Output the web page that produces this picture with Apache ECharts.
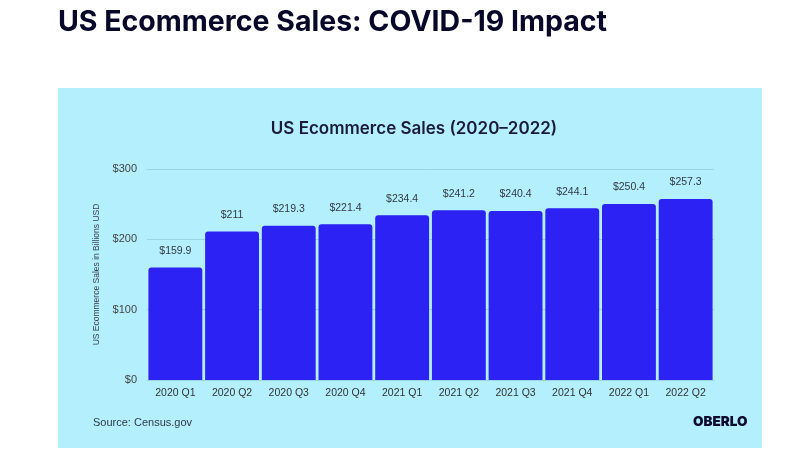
<!DOCTYPE html>
<html><head><meta charset="utf-8">
<script src="https://cdn.jsdelivr.net/npm/echarts@6/dist/echarts.min.js"></script>
<style>html,body{margin:0;padding:0;background:#fff}#c{width:811px;height:475px}</style>
</head><body><div id="c"></div>
<script>
const categories = ['2020 Q1','2020 Q2','2020 Q3','2020 Q4','2021 Q1','2021 Q2','2021 Q3','2021 Q4','2022 Q1','2022 Q2'];
const sales = [159.9, 211, 219.3, 221.4, 234.4, 241.2, 240.4, 244.1, 250.4, 257.3];
const yTicks = [0, 100, 200, 300];

const chart = echarts.init(document.getElementById('c'));
chart.setOption({
  backgroundColor: '#ffffff',
  animation: false,
  graphic: [
    {type:'rect', left:58, top:88, z:-10, shape:{width:704, height:360}, style:{fill:'#b3effc'}},
    {type:'text', left:58, top:8, style:{text:'US Ecommerce Sales: COVID-19 Impact', font:'bold 28.5px "Inter", "Liberation Sans", sans-serif', fill:'#07072a'}},
    {type:'text', left:93, top:417, style:{text:'Source: Census.gov', font:'11px "Liberation Sans", sans-serif', fill:'#333a44'}},
    {type:'text', left:693, top:415, style:{text:'OBERLO', font:'900 13.5px "Inter", "Liberation Sans", sans-serif', fill:'#0b0b30'}}
  ],
  title: {
    text: 'US Ecommerce Sales (2020–2022)',
    left: 409, top: 115, textAlign: 'center',
    textStyle: {fontSize: 17, fontWeight: 600, color: '#1b1b38', fontFamily: 'Inter, "Liberation Sans", sans-serif'}
  },
  grid: {left: 147, right: 97, top: 169, bottom: 95},
  xAxis: {
    type: 'category', data: categories,
    axisLine: {show: false}, axisTick: {show: false},
    axisLabel: {color: '#333', fontSize: 10.5, margin: 8, fontFamily: '"Liberation Sans", sans-serif'}
  },
  yAxis: {
    type: 'value', min: 0, max: 300, interval: 100,
    name: 'US Ecommerce Sales in Billions USD', nameLocation: 'middle', nameGap: 44,
    nameTextStyle: {fontSize: 8.5, color: '#3a4250', fontFamily: '"Liberation Sans", sans-serif'},
    axisLabel: {color: '#444', fontSize: 11, margin: 10, formatter: v => yTicks.includes(v) ? '$' + v : '', fontFamily: '"Liberation Sans", sans-serif'},
    splitLine: {lineStyle: {color: '#96d6e6', width: 1}},
    axisLine: {show: false}, axisTick: {show: false}
  },
  series: [{
    type: 'bar', data: sales, barCategoryGap: '5%',
    itemStyle: {color: '#2c22f4', borderRadius: [3,3,0,0]},
    label: {show: true, position: 'top', distance: 11, formatter: p => '$' + p.value, color: '#333a44', fontSize: 10.5, fontFamily: '"Liberation Sans", sans-serif'}
  }]
});
</script></body></html>
